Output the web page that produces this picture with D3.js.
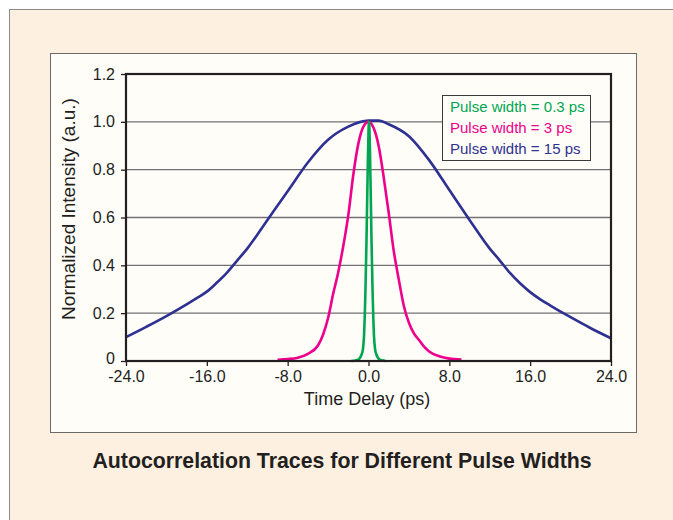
<!DOCTYPE html>
<html>
<head>
<meta charset="utf-8">
<script src="https://cdn.jsdelivr.net/npm/d3@7/dist/d3.min.js"></script>
<style>
html,body{margin:0;padding:0;background:#fff;}
svg{display:block;font-family:"Liberation Sans",Arial,Helvetica,sans-serif;}
</style>
</head>
<body>
<svg id="chart" width="673" height="520"></svg>
<script>
// ---- data ----
const xTicks = [-24, -16, -8, 0, 8, 16, 24];
const yTicks = [0, 0.2, 0.4, 0.6, 0.8, 1.0, 1.2];
const seriesNames = ["Pulse width = 0.3 ps", "Pulse width = 3 ps", "Pulse width = 15 ps"];

const pulse03x = [-1.7, -1.2, -0.9, -0.7, -0.55, -0.45, -0.3, -0.2, -0.1, 0.05, 0.2, 0.3, 0.4, 0.55, 0.65, 0.8, 1.0, 1.3, 1.7];
const pulse03y = [0.0, 0.003, 0.01, 0.025, 0.05, 0.1, 0.3, 0.5, 0.75, 1.0, 0.75, 0.5, 0.3, 0.1, 0.05, 0.025, 0.01, 0.003, 0.0];

const pulse3x = [-9.0, -8, -7, -6, -5, -4.5, -4, -3.5, -3, -2.5, -2, -1.5, -1, -0.5, 0, 0.5, 1, 1.5, 2, 2.5, 3, 3.5, 4, 4.5, 5, 5.5, 6, 7, 8, 9.2];
const pulse3y = [0.005, 0.008, 0.014, 0.03, 0.065, 0.11, 0.18, 0.28, 0.37, 0.48, 0.61, 0.78, 0.91, 0.98, 1.0, 0.975, 0.90, 0.77, 0.62, 0.46, 0.34, 0.23, 0.16, 0.115, 0.088, 0.06, 0.04, 0.02, 0.01, 0.006];

const pulse15x = [-24, -22, -20, -18, -17, -16, -15, -14, -13, -12, -10, -8, -6, -4, -2, 0, 1, 2, 4, 6, 8, 10, 12, 13, 14, 15, 16, 17, 18, 20, 22, 24];
const pulse15y = [0.10, 0.143, 0.188, 0.237, 0.263, 0.29, 0.328, 0.37, 0.42, 0.47, 0.59, 0.71, 0.83, 0.925, 0.98, 1.005, 1.005, 0.99, 0.94, 0.84, 0.715, 0.59, 0.47, 0.42, 0.368, 0.325, 0.288, 0.258, 0.232, 0.183, 0.137, 0.095];

const colors = ["#00a651", "#ec008c", "#2e3192"];

// ---- layout ----
const svg = d3.select("#chart");
const L = 126, R = 611, T = 74, B = 361;

// outer panel
svg.append("rect").attr("x", 9.5).attr("y", 9.5).attr("width", 700).attr("height", 600)
  .attr("fill", "#fdf0e1").attr("stroke", "#8a8a8a").attr("stroke-width", 1);
// inner panel
svg.append("rect").attr("x", 50.5).attr("y", 53.5).attr("width", 586).attr("height", 379)
  .attr("fill", "#fffdf8").attr("stroke", "#6a6a6a").attr("stroke-width", 1);

const x = d3.scaleLinear().domain([-24, 24]).range([L, R]);
const y = d3.scaleLinear().domain([0, 1.2]).range([B, T]);

// gridlines
svg.append("g").selectAll("line").data(yTicks.filter(d => d > 0 && d < 1.2)).join("line")
  .attr("x1", L).attr("x2", R).attr("y1", d => y(d)).attr("y2", d => y(d))
  .attr("stroke", "#727272").attr("stroke-width", 1.3);

// axes
const yAxis = d3.axisLeft(y).tickValues(yTicks).tickSize(5).tickPadding(6)
  .tickFormat(d => d === 0 ? "0" : d.toFixed(1));
const gy = svg.append("g").attr("transform", `translate(${L},0)`).call(yAxis);
const xAxis = d3.axisBottom(x).tickValues(xTicks).tickSize(5).tickPadding(5)
  .tickFormat(d => d.toFixed(1));
const gx = svg.append("g").attr("transform", `translate(0,${B})`).call(xAxis);
[gx, gy].forEach(g => {
  g.select(".domain").remove();
  g.selectAll("line").attr("stroke", "#231f20").attr("stroke-width", 1.3);
  g.selectAll("text").attr("fill", "#231f20").attr("font-size", 16)
    .attr("font-family", "'Liberation Sans',Arial,sans-serif");
});
gy.selectAll(".tick").filter(d => d === 0).select("text").attr("y", -3);

// series lines
const line = d3.line().x(d => x(d[0])).y(d => y(d[1])).curve(d3.curveMonotoneX);
const series = [
  d3.zip(pulse15x, pulse15y),
  d3.zip(pulse3x, pulse3y),
  d3.zip(pulse03x, pulse03y)
];
const seriesColors = [colors[2], colors[1], colors[0]];
svg.append("g").selectAll("path").data(series).join("path")
  .attr("d", line).attr("fill", "none")
  .attr("stroke", (d, i) => seriesColors[i]).attr("stroke-width", 2.6)
  .attr("stroke-linejoin", "round").attr("stroke-linecap", "butt");

// frame
svg.append("rect").attr("x", L).attr("y", T).attr("width", R - L).attr("height", B - T)
  .attr("fill", "none").attr("stroke", "#231f20").attr("stroke-width", 2.2);

// legend
const lg = svg.append("g");
lg.append("rect").attr("x", 442.5).attr("y", 95.5).attr("width", 148).attr("height", 65)
  .attr("fill", "#fffdf8").attr("stroke", "#3a3a3a").attr("stroke-width", 1);
lg.selectAll("text").data(seriesNames).join("text")
  .attr("x", 450).attr("y", (d, i) => 112 + i * 21)
  .attr("fill", (d, i) => colors[i]).attr("font-size", 15).text(d => d);

// axis titles
svg.append("text").attr("x", 367).attr("y", 405).attr("text-anchor", "middle")
  .attr("font-size", 18).attr("fill", "#231f20").text("Time Delay (ps)");
svg.append("text").attr("transform", "translate(75,209) rotate(-90)").attr("text-anchor", "middle")
  .attr("font-size", 19).attr("fill", "#231f20").text("Normalized Intensity (a.u.)");

// caption
svg.append("text").attr("x", 342).attr("y", 468).attr("text-anchor", "middle")
  .attr("font-size", 21.3).attr("font-weight", "bold").attr("fill", "#231f20")
  .text("Autocorrelation Traces for Different Pulse Widths");
</script>
</body>
</html>
